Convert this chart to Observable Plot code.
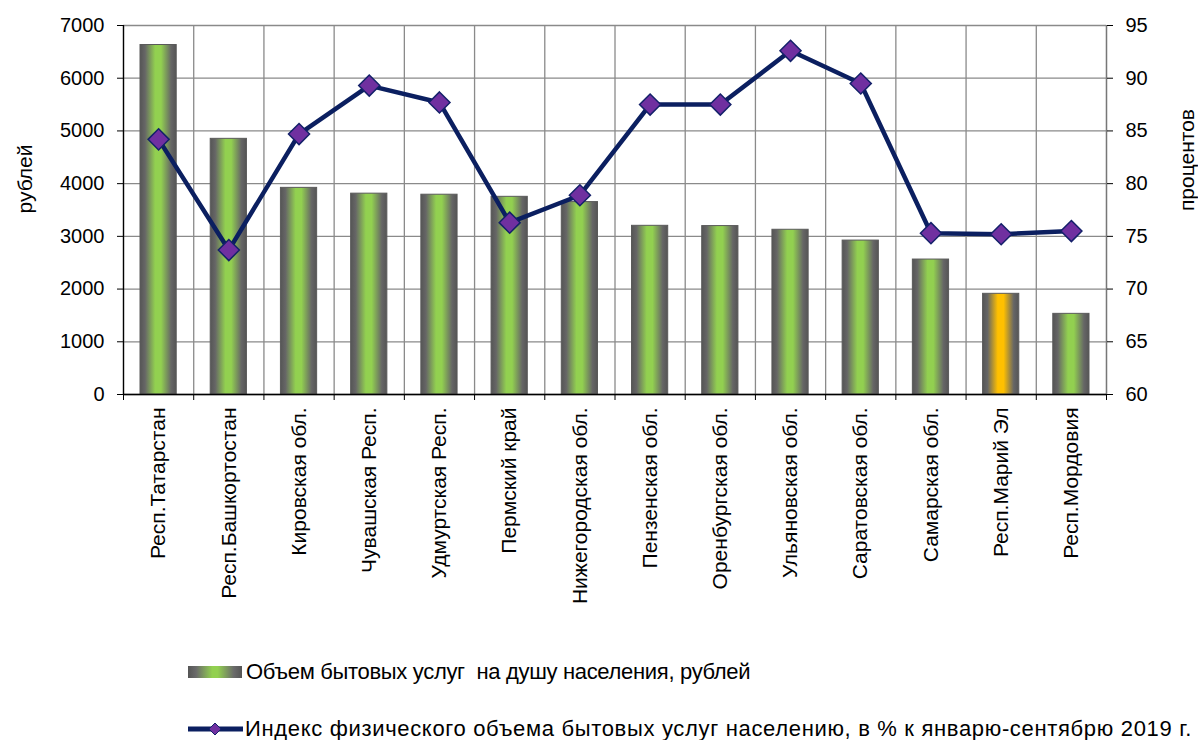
<!DOCTYPE html>
<html><head><meta charset="utf-8">
<script src="https://cdn.jsdelivr.net/npm/d3@7"></script>
<script src="https://cdn.jsdelivr.net/npm/@observablehq/plot@0.6"></script>
<style>
body{margin:0;background:#fff;font-family:"Liberation Sans",Arial,sans-serif;}
#wrap{position:relative;width:1198px;height:740px;overflow:hidden;}
.leg{position:absolute;left:188px;height:26px;font-size:22px;display:flex;align-items:center;color:#000;white-space:pre;}
.sw1{width:54px;height:12px;margin-right:4px;background:linear-gradient(to right,#555 0%,#6a6a6a 15%,#92d050 45%,#92d050 55%,#6a6a6a 85%,#555 100%);}
</style></head><body><div id="wrap"></div>
<script>
const regions = ["Респ.Татарстан","Респ.Башкортостан","Кировская обл.","Чувашская Респ.","Удмуртская Респ.","Пермский край","Нижегородская обл.","Пензенская обл.","Оренбургская обл.","Ульяновская обл.","Саратовская обл.","Самарская обл.","Респ.Марий Эл","Респ.Мордовия"];
const perCapita = [6630, 4850, 3920, 3810, 3790, 3750, 3650, 3200, 3195, 3125, 2920, 2560, 1910, 1530];
const volumeIndex = [84.2, 73.7, 84.7, 89.3, 87.7, 76.3, 78.9, 87.5, 87.5, 92.6, 89.5, 75.3, 75.2, 75.5];
const highlight = "Респ.Марий Эл";
const leftTicks = [0, 1000, 2000, 3000, 4000, 5000, 6000, 7000];
const rightTicks = [60, 65, 70, 75, 80, 85, 90, 95];
const leftLabel = "рублей";
const rightLabel = "процентов";
const legendBar = "Объем бытовых услуг  на душу населения, рублей";
const legendLine = "Индекс физического объема бытовых услуг населению, в % к январю-сентябрю 2019 г.";

const leftMax = 7000, rightMin = 60, rightMax = 95;
const toLeft = v => (v - rightMin) / (rightMax - rightMin) * leftMax;
const fromLeft = d => Math.round(rightMin + d / leftMax * (rightMax - rightMin));

const rows = regions.map((r, i) => ({region: r, i, value: perCapita[i], idx: volumeIndex[i], hi: r === highlight}));
const grey = "#8a8a8a";
const font = "'Liberation Sans', Arial, sans-serif";

const chart = Plot.plot({
  width: 1198, height: 640,
  marginLeft: 123, marginRight: 92, marginTop: 25, marginBottom: 246,
  x: {type: "linear", domain: [0, regions.length], axis: null},
  y: {domain: [0, leftMax], axis: null},
  style: {fontFamily: font, fontSize: "20px", color: "#000", background: "white", overflow: "visible"},
  marks: [
    Plot.ruleY(leftTicks, {stroke: grey, strokeWidth: 1.3}),
    Plot.ruleX(d3.range(regions.length + 1), {y1: 0, y2: leftMax, stroke: grey, strokeWidth: 1.3}),
    Plot.rectY(rows.filter(d => !d.hi), {x1: "i", x2: d => d.i + 1, y: "value", insetLeft: 17, insetRight: 17, fill: "url(#gGreen)", stroke: "#5a5a5a", strokeWidth: 1}),
    Plot.rectY(rows.filter(d => d.hi), {x1: "i", x2: d => d.i + 1, y: "value", insetLeft: 17, insetRight: 17, fill: "url(#gOrange)", stroke: "#5a5a5a", strokeWidth: 1}),
    Plot.ruleX([0], {stroke: "#000", strokeWidth: 1.3}),
    Plot.ruleX([regions.length], {stroke: "#777", strokeWidth: 1.3}),
    Plot.ruleY([0], {stroke: "#000", strokeWidth: 1.3}),
    Plot.axisX(d3.range(regions.length + 1), {anchor: "bottom", tickSize: 6, tickFormat: () => "", label: null, stroke: "#000"}),
    Plot.axisX(rows.map(d => d.i + 0.5), {anchor: "bottom", tickSize: 0, tickPadding: 13, tickRotate: -90, tickFormat: d => regions[Math.floor(d)], label: null, fontSize: 21}),
    Plot.axisY(leftTicks, {anchor: "left", tickSize: 6, tickPadding: 13, tickFormat: d => String(d), label: null, fontSize: 20}),
    Plot.axisY(rightTicks.map(toLeft), {anchor: "right", tickSize: 6, tickPadding: 13, tickFormat: fromLeft, label: null, fontSize: 20}),
    Plot.line(rows, {x: d => d.i + 0.5, y: d => toLeft(d.idx), stroke: "#0b1f60", strokeWidth: 4.5}),
    Plot.dot(rows, {x: d => d.i + 0.5, y: d => toLeft(d.idx), symbol: "diamond2", r: 9.5, fill: "#7030a0", stroke: "#14216a", strokeWidth: 1.5}),
    Plot.text([leftLabel], {text: d => d, frameAnchor: "left", textAnchor: "middle", dx: -98, dy: -31, rotate: -90, fontSize: 21}),
    Plot.text([rightLabel], {text: d => d, frameAnchor: "right", textAnchor: "middle", dx: 81, dy: -50, rotate: -90, fontSize: 21})
  ]
});

const defs = d3.select(chart).insert("defs", ":first-child");
function grad(id, mid) {
  const g = defs.append("linearGradient").attr("id", id).attr("x1", 0).attr("x2", 1).attr("y1", 0).attr("y2", 0);
  [[0, "#555"], [0.14, "#666"], [0.42, mid], [0.58, mid], [0.86, "#666"], [1, "#555"]]
    .forEach(([o, c]) => g.append("stop").attr("offset", o).attr("stop-color", c));
}
grad("gGreen", "#92d050");
grad("gOrange", "#ffc000");

const wrap = document.getElementById("wrap");
wrap.appendChild(chart);

const l1 = document.createElement("div");
l1.className = "leg"; l1.style.top = "659px"; l1.style.letterSpacing = "-0.32px";
l1.innerHTML = `<div class="sw1"></div><span></span>`;
l1.querySelector("span").textContent = legendBar;
wrap.appendChild(l1);

const l2 = document.createElement("div");
l2.className = "leg"; l2.style.top = "716px"; l2.style.letterSpacing = "0.67px";
l2.innerHTML = `<svg width="57" height="16"><line x1="0" x2="55" y1="8" y2="8" stroke="#0b1f60" stroke-width="5"/><path d="M27,2 L33,8 L27,14 L21,8 Z" fill="#7030a0" stroke="#14216a" stroke-width="1"/></svg><span></span>`;
l2.querySelector("span").textContent = legendLine;
wrap.appendChild(l2);
</script>
</body></html>
